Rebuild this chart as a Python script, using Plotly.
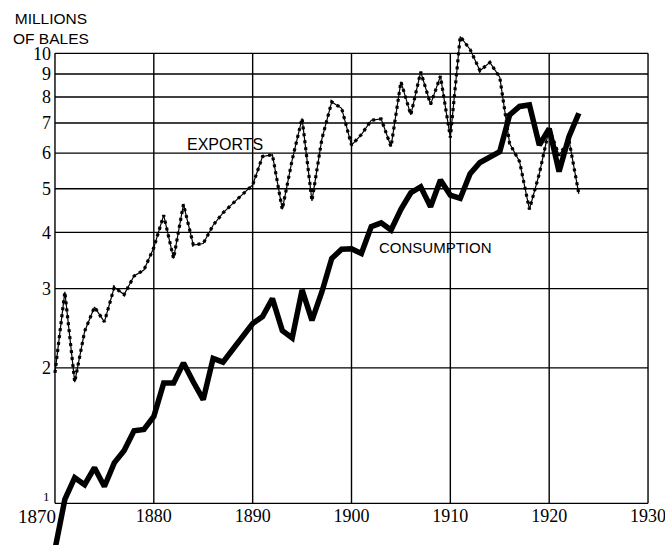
import math
import plotly.graph_objects as go

# ---------------- data (millions of bales) ----------------
years = list(range(1870, 1924))

exports = [
    1.95, 2.95, 1.86, 2.41, 2.73, 2.53, 3.02, 2.91, 3.20, 3.30,   # 1870-1879
    3.70, 4.37, 3.50, 4.62, 3.75, 3.78, 4.15, 4.42, 4.64, 4.87,   # 1880-1889
    5.10, 5.90, 5.95, 4.50, 5.80, 7.17, 4.70, 6.45, 7.80, 7.55,   # 1890-1899
    6.25, 6.60, 7.10, 7.15, 6.20, 8.65, 7.30, 9.10, 7.70, 8.90,   # 1900-1909
    6.50, 10.90, 10.20, 9.15, 9.55, 8.85, 6.30, 5.75, 4.50, 5.40, # 1910-1919
    6.80, 5.93, 6.42, 4.87,                                       # 1920-1923
]

consumption = [
    0.79, 1.02, 1.14, 1.10, 1.20, 1.09, 1.23, 1.31, 1.45, 1.46,   # 1870-1879
    1.56, 1.85, 1.85, 2.05, 1.86, 1.70, 2.10, 2.06, 2.20, 2.35,   # 1880-1889
    2.51, 2.60, 2.85, 2.42, 2.33, 2.98, 2.55, 2.95, 3.50, 3.67,   # 1890-1899
    3.68, 3.59, 4.12, 4.20, 4.05, 4.50, 4.90, 5.05, 4.56, 5.23,   # 1900-1909
    4.84, 4.76, 5.40, 5.72, 5.90, 6.05, 7.30, 7.62, 7.68, 6.25,   # 1910-1919
    6.80, 5.46, 6.53, 7.36,                                       # 1920-1923
]

x_grid = [1870, 1880, 1890, 1900, 1910, 1920, 1930]
x_tick_vals = [1880, 1890, 1900, 1910, 1920, 1930]
x_tick_text = ["1880", "1890", "1900", "1910", "1920", "1930"]
y_grid = [1, 2, 3, 4, 5, 6, 7, 8, 9, 10]
y_tick_vals = [2, 3, 4, 5, 6, 7, 8, 9, 10]
y_tick_text = ["2", "3", "4", "5", "6", "7", "8", "9", "10"]

# ---------------- figure ----------------
X_LO, X_HI = 1869.7, 1930.3
Y_LO, Y_HI = 0.808, 11.86
ylog_lo, ylog_hi = math.log10(Y_LO), math.log10(Y_HI)
x_axis_pos = (0 - ylog_lo) / (ylog_hi - ylog_lo)

fig = go.Figure()

fig.add_trace(go.Scatter(
    x=years, y=consumption, mode="lines",
    line=dict(color="black", width=5.5), hoverinfo="skip"))
fig.add_trace(go.Scatter(
    x=years, y=exports, mode="lines",
    line=dict(color="black", width=1.2), hoverinfo="skip"))
fig.add_trace(go.Scatter(
    x=years, y=exports, mode="lines",
    line=dict(color="black", width=3.2, dash="3px,4px"), hoverinfo="skip"))

shapes = []
for xv in x_grid:
    shapes.append(dict(type="line", xref="x", yref="y", x0=xv, x1=xv,
                       y0=1, y1=10, line=dict(color="black", width=1.4),
                       layer="below"))
for yv in y_grid:
    shapes.append(dict(type="line", xref="x", yref="y", x0=1870, x1=1930,
                       y0=yv, y1=yv, line=dict(color="black", width=1.4),
                       layer="below"))

serif = "Liberation Serif, DejaVu Serif, serif"
sans = "Liberation Sans, Arial, sans-serif"

W, H, ML, MR, MT, MB = 665, 545, 52, 14, 20, 0
PW, PH = W - ML - MR, H - MT - MB


def px_x(p):
    return (p - ML) / PW


def px_y(p):
    return (H - MB - p) / PH


annotations = [
    dict(text="MILLIONS<br>OF BALES", xref="paper", yref="paper",
         x=px_x(50.5), y=px_y(8),
         xanchor="center", yanchor="top", align="center", showarrow=False,
         font=dict(family=sans, size=15.5, color="black")),
    dict(text="EXPORTS", xref="x", yref="y", x=1883.16, y=math.log10(6.26),
         xanchor="left", yanchor="middle", showarrow=False,
         font=dict(family=sans, size=16, color="black")),
    dict(text="CONSUMPTION", xref="x", yref="y", x=1902.6, y=math.log10(3.71),
         xanchor="left", yanchor="middle", showarrow=False,
         font=dict(family=sans, size=15, color="black")),
    dict(text="1", xref="x", yref="y", x=1870, y=0,
         xanchor="right", yanchor="bottom", xshift=-3, yshift=-3,
         showarrow=False, font=dict(family=serif, size=13, color="black")),
    dict(text="1870", xref="x", yref="y", x=1870, y=0,
         xanchor="right", yanchor="top", yshift=-1, xshift=3, showarrow=False,
         font=dict(family=serif, size=19, color="black")),
]

fig.update_layout(
    template="none",
    width=W, height=H,
    margin=dict(l=ML, r=MR, t=MT, b=MB, pad=0),
    paper_bgcolor="white", plot_bgcolor="white",
    showlegend=False,
    shapes=shapes,
    annotations=annotations,
    xaxis=dict(range=[X_LO, X_HI], showgrid=False, zeroline=False,
               showline=False, ticks="", tickvals=x_tick_vals,
               ticktext=x_tick_text, anchor="free", position=x_axis_pos,
               automargin=False, ticklabeloverflow="allow",
               tickfont=dict(family=serif, size=18, color="black")),
    yaxis=dict(type="log", range=[ylog_lo, ylog_hi], showgrid=False,
               zeroline=False, showline=False, ticks="",
               tickvals=y_tick_vals, ticktext=y_tick_text, automargin=False,
               ticklabelstandoff=0,
               tickfont=dict(family=serif, size=18, color="black")),
)

fig.write_html(
    "out.html",
    config={"displayModeBar": False},
    post_script="document.body.style.margin='0';document.body.style.padding='0';",
)
